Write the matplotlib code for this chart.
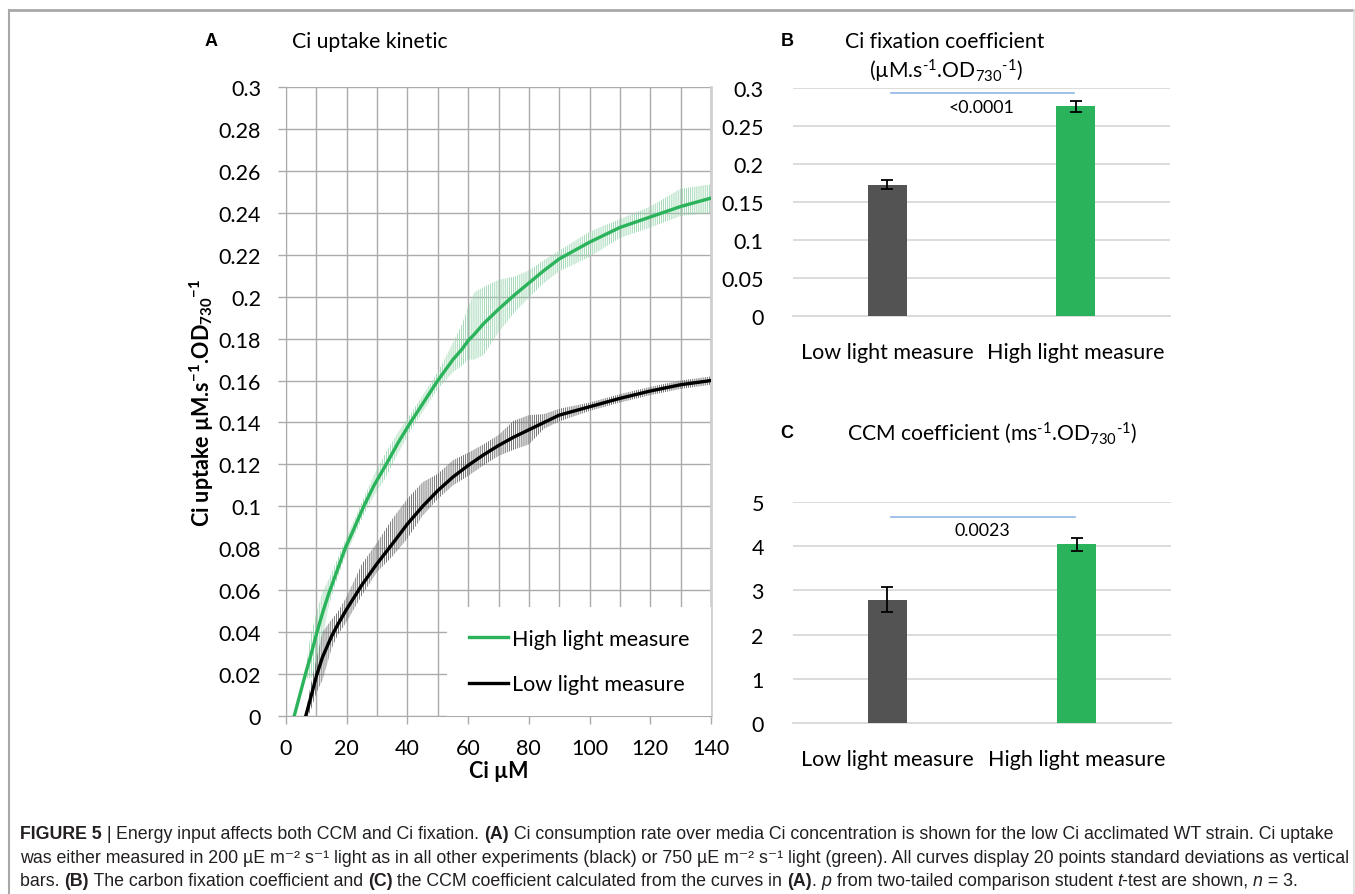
import matplotlib
matplotlib.use("Agg")
import matplotlib.pyplot as plt
import numpy as np
from matplotlib.lines import Line2D
from matplotlib.text import Annotation
from matplotlib.ticker import FuncFormatter, MultipleLocator

plt.rcParams['font.family'] = ['Lato', 'DejaVu Sans']
plt.rcParams['mathtext.fontset'] = 'custom'
plt.rcParams['mathtext.rm'] = 'Lato'
plt.rcParams['mathtext.it'] = 'Lato:italic'
plt.rcParams['mathtext.bf'] = 'Lato:bold'
plt.rcParams['mathtext.default'] = 'regular'
plt.rcParams['hatch.linewidth'] = 0.6

# ---------------- Panel A data ----------------
x_high = [2.7, 6.4, 8, 10.2, 12, 14, 17, 19.5, 22, 25.6, 29, 33, 37, 41, 45.5,
          50, 55, 58, 60, 62, 65, 70, 75, 80, 85, 90, 100, 110, 120, 130, 140]
y_high = [0, 0.02, 0.028, 0.04, 0.049, 0.058, 0.07, 0.08, 0.088, 0.10, 0.11, 0.12,
          0.1305, 0.140, 0.150, 0.160, 0.170, 0.175, 0.179, 0.182, 0.187, 0.194,
          0.2005, 0.2065, 0.2125, 0.218, 0.226, 0.233, 0.238, 0.243, 0.247]
err_hi_high = [0, 0.002, 0.010, 0.010, 0.010, 0.007, 0.005, 0.004, 0.004, 0.004,
               0.005, 0.006, 0.005, 0.004, 0.004, 0.004, 0.008, 0.012, 0.016,
               0.020, 0.0175, 0.014, 0.009, 0.006, 0.005, 0.004, 0.005, 0.004,
               0.005, 0.0085, 0.0066]
err_lo_high = [0, 0.002, 0.010, 0.020, 0.012, 0.006, 0.004, 0.004, 0.004, 0.004,
               0.005, 0.006, 0.005, 0.004, 0.004, 0.004, 0.006, 0.008, 0.009,
               0.012, 0.015, 0.011, 0.0085, 0.007, 0.006, 0.006, 0.007, 0.005,
               0.005, 0.0045, 0.007]

x_low = [6.5, 8, 10, 12, 15, 17, 20, 25, 30, 35, 40, 45, 50, 55, 60, 65, 70, 75,
         80, 85, 90, 100, 110, 120, 130, 140]
y_low = [0, 0.008, 0.019, 0.028, 0.038, 0.0435, 0.051, 0.0625, 0.0727, 0.082,
         0.0916, 0.100, 0.1075, 0.114, 0.1195, 0.1245, 0.129, 0.133, 0.1365, 0.140,
         0.1435, 0.1475, 0.1515, 0.155, 0.158, 0.160]
err_hi_low = [0.001, 0.006, 0.008, 0.012, 0.008, 0.006, 0.006, 0.010, 0.010, 0.012,
              0.012, 0.0115, 0.008, 0.008, 0.006, 0.005, 0.005, 0.0078, 0.007,
              0.004, 0.003, 0.002, 0.002, 0.002, 0.002, 0.002]
err_lo_low = [0.001, 0.006, 0.008, 0.011, 0.006, 0.005, 0.006, 0.005, 0.004, 0.006,
              0.007, 0.0045, 0.004, 0.004, 0.005, 0.005, 0.005, 0.006, 0.007,
              0.003, 0.003, 0.002, 0.002, 0.002, 0.002, 0.002]

# ---------------- Panels B and C data ----------------
categories = ["Low light measure", "High light measure"]
fix_values = [0.173, 0.276]
fix_err = [0.006, 0.0073]
fix_p = "<0.0001"
ccm_values = [2.79, 4.045]
ccm_err = [0.28, 0.15]
ccm_p = "0.0023"

GREEN = '#2BB35C'
DARK = '#535353'
SUP1 = '$^{\\text{-1}}$'

fig = plt.figure(figsize=(13.55, 8.95), dpi=100)
W, H = 1355, 895

def ax_rect(l, t, r, b):
    return [l / W, 1 - b / H, (r - l) / W, (b - t) / H]

# ---------------- Panel A ----------------
axA = fig.add_axes(ax_rect(286, 88, 711, 717))
xh = np.array(x_high); yh = np.array(y_high)
xl = np.array(x_low); yl = np.array(y_low)
axA.fill_between(xh, yh - np.array(err_lo_high), yh + np.array(err_hi_high),
                 facecolor='none', edgecolor='#96D4AC', hatch='||||||||', linewidth=0, zorder=2)
axA.fill_between(xl, yl - np.array(err_lo_low), yl + np.array(err_hi_low),
                 facecolor='none', edgecolor='#5E5E5E', hatch='||||||||', linewidth=0, zorder=2)
axA.plot(xh, yh, color=GREEN, lw=2.4, label='High light measure', zorder=3)
axA.plot(xl, yl, color='black', lw=2.4, label='Low light measure', zorder=3)
axA.set_xlim(0, 140)
axA.set_ylim(0, 0.3)
axA.xaxis.set_major_locator(MultipleLocator(20))
axA.xaxis.set_minor_locator(MultipleLocator(10))
axA.yaxis.set_major_locator(MultipleLocator(0.02))
fmt = FuncFormatter(lambda v, p: '{:g}'.format(round(v, 4)))
axA.yaxis.set_major_formatter(fmt)
axA.grid(True, which='both', axis='x', color='#ABABAB', lw=1.0, zorder=0)
axA.grid(True, which='major', axis='y', color='#ABABAB', lw=1.0, zorder=0)
axA.set_axisbelow(True)
axA.spines['top'].set_visible(False)
axA.spines['right'].set_color('#D0D0D0')
axA.spines['right'].set_linewidth(2)
axA.spines['left'].set_color('#ABABAB')
axA.spines['bottom'].set_color('#ABABAB')
axA.tick_params(axis='both', which='major', labelsize=15.5, color='#ABABAB',
                length=6, width=1, direction='out')
axA.tick_params(axis='x', which='minor', length=0)
axA.tick_params(axis='x', pad=10)
axA.tick_params(axis='y', pad=12)
axA.set_xlabel('Ci µM', fontsize=15.5, fontweight='bold', labelpad=1)
axA.set_ylabel('Ci uptake µM.s$^{\\mathbf{-1}}$.OD$_{\\mathbf{730}}$$^{\\mathbf{-1}}$',
               fontsize=15.5, fontweight='bold', labelpad=2)
leg = axA.legend(loc='lower right', bbox_to_anchor=(1.0, 0.0), frameon=True,
                 fontsize=15.5, handlelength=1.8, handletextpad=0.2,
                 labelspacing=1.2, borderaxespad=0.0, borderpad=1.0,
                 fancybox=False)
leg.get_frame().set_facecolor('white')
leg.get_frame().set_edgecolor('none')
leg.get_frame().set_alpha(1)
fig.text(205 / W, 1 - 42 / H, 'A', fontsize=13, fontweight='bold',
         family=['Liberation Sans', 'DejaVu Sans'], va='center', ha='left')
fig.text(292 / W, 1 - 42 / H, 'Ci uptake kinetic', fontsize=15.2, va='center', ha='left')

# ---------------- Bar panels ----------------
def bar_panel(rect, values, errs, ymax, step, sig_y, text_y, ptext):
    ax = fig.add_axes(rect)
    xs = np.arange(len(categories))
    ax.bar(xs, values, width=0.207, color=[DARK, GREEN], zorder=3)
    ax.errorbar(xs, values, yerr=errs, fmt='none', ecolor='black', elinewidth=1.3,
                capsize=4.5, capthick=1.3, zorder=4)
    ax.set_xlim(-0.5, 1.5)
    ax.set_ylim(0, ymax)
    ax.yaxis.set_major_locator(MultipleLocator(step))
    ax.yaxis.set_major_formatter(fmt)
    ax.grid(True, axis='y', color='#D9D9D9', lw=1.3, zorder=0)
    ax.set_axisbelow(True)
    for s in ['top', 'right', 'left']:
        ax.spines[s].set_visible(False)
    ax.spines['bottom'].set_color('#D9D9D9')
    ax.spines['bottom'].set_linewidth(1.3)
    ax.set_xticks(xs)
    ax.set_xticklabels(categories)
    ax.tick_params(axis='y', length=0, labelsize=15.5, pad=21)
    ax.tick_params(axis='x', length=0, labelsize=15.5, pad=19)
    ax.plot([0.02, 0.99], [sig_y, sig_y], color='#8DB7E3', lw=1.2, zorder=5)
    ax.text(0.5, text_y, ptext, fontsize=12.8, ha='center', va='center', zorder=6)
    return ax

axB = bar_panel(ax_rect(793, 89, 1170, 317), fix_values, fix_err, 0.3, 0.05,
                0.293, 0.2755, fix_p)
axC = bar_panel(ax_rect(793, 503, 1171, 724), ccm_values, ccm_err, 5, 1,
                4.67, 4.37, ccm_p)

fig.text(787 / W, 1 - 42 / H, 'B', fontsize=13, fontweight='bold',
         family=['Liberation Sans', 'DejaVu Sans'], va='center', ha='center')
fig.text(945 / W, 1 - 42 / H, 'Ci fixation coefficient', fontsize=15.2,
         va='center', ha='center')
fig.text(946 / W, 1 - 71 / H, '(µM.s' + SUP1 + '.OD$_{730}$' + SUP1 + ')', fontsize=15.2,
         va='center', ha='center')
fig.text(787 / W, 1 - 434 / H, 'C', fontsize=13, fontweight='bold',
         family=['Liberation Sans', 'DejaVu Sans'], va='center', ha='center')
fig.text(992 / W, 1 - 433 / H, 'CCM coefficient (ms' + SUP1 + '.OD$_{730}$' + SUP1 + ')',
         fontsize=15.2, va='center', ha='center')

# ---------------- Frame ----------------
fig.add_artist(Line2D([9 / W, 1], [1 - 11 / H, 1 - 11 / H], color='#A8A8A8', lw=2))
fig.add_artist(Line2D([9 / W, 9 / W], [0, 1 - 11 / H], color='#A8A8A8', lw=1.5))
fig.add_artist(Line2D([1354 / W, 1354 / W], [0, 1 - 11 / H], color='#DDDDDD', lw=1.2))

# ---------------- Caption ----------------
CAP = ['Liberation Sans', 'DejaVu Sans']
CAP_SIZE = 12.8
CAP_COLOR = '#231F20'
lines = [
    [("FIGURE 5", 'bold', 'normal'), (" | ", 'normal', 'normal'),
     ("Energy input affects both CCM and Ci fixation. ", 'normal', 'normal'),
     ("(A)", 'bold', 'normal'),
     (" Ci consumption rate over media Ci concentration is shown for the low Ci acclimated WT strain. Ci uptake", 'normal', 'normal')],
    [("was either measured in 200 µE m\u207b\u00b2 s\u207b\u00b9 light as in all other experiments (black) or 750 µE m\u207b\u00b2 s\u207b\u00b9 light (green). All curves display 20 points standard deviations as vertical", 'normal', 'normal')],
    [("bars. ", 'normal', 'normal'), ("(B)", 'bold', 'normal'),
     (" The carbon fixation coefficient and ", 'normal', 'normal'), ("(C)", 'bold', 'normal'),
     (" the CCM coefficient calculated from the curves in ", 'normal', 'normal'),
     ("(A)", 'bold', 'normal'), (". ", 'normal', 'normal'), ("p", 'normal', 'italic'),
     (" from two-tailed comparison student ", 'normal', 'normal'), ("t", 'normal', 'italic'),
     ("-test are shown, ", 'normal', 'normal'), ("n", 'normal', 'italic'),
     (" = 3.", 'normal', 'normal')],
]
line_y = [843, 867, 890]
for segs, yy in zip(lines, line_y):
    prev = None
    for txt, wt, st in segs:
        if prev is None:
            prev = fig.text(20 / W, 1 - yy / H, txt, fontsize=CAP_SIZE, fontweight=wt,
                            fontstyle=st, family=CAP, color=CAP_COLOR,
                            va='bottom', ha='left')
        else:
            ann = Annotation(txt, xy=(1, 0), xycoords=prev, fontsize=CAP_SIZE,
                             fontweight=wt, fontstyle=st, family=CAP, color=CAP_COLOR,
                             va='bottom', ha='left')
            fig.add_artist(ann)
            prev = ann

fig.savefig('out.png', dpi=100)
